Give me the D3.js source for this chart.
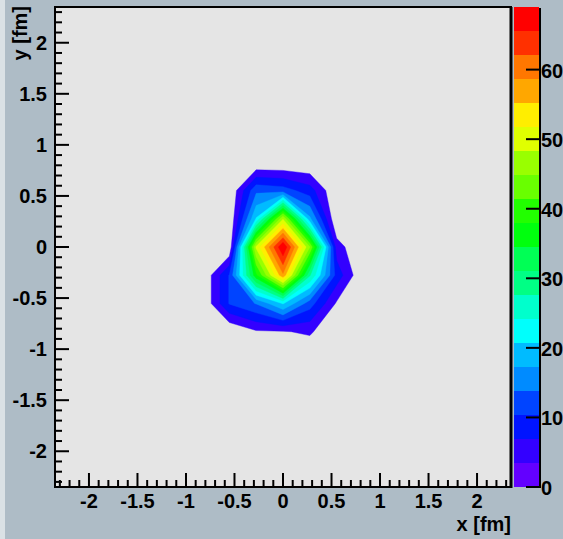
<!DOCTYPE html>
<html><head><meta charset="utf-8">
<script src="https://cdn.jsdelivr.net/npm/d3@7"></script>
<style>
html,body{margin:0;padding:0;background:#aebcc6;}
svg{display:block;}
</style>
</head><body>
<svg id="chart" width="563" height="539"></svg>
<script>
// ---------------- data ----------------
const xRange = [-2.35, 2.35];
const yRange = [-2.35, 2.35];
const nBinsX = 17;
const nBinsY = 17;
// bin offsets (from the central bin) of the non-empty core of the histogram
const coreCols = [-3, -2, -1, 0, 1, 2, 3];
const coreRows = [3, 2, 1, 0, -1, -2, -3, -4];
// bin contents, one row per coreRows entry (top to bottom), one value per coreCols entry
const zRows = [
  [0, 0,    0,  0,   0,   0, 0],
  [0, 0,   13, 12,   8.5, 0, 0],
  [0, 0,   21, 48,  18,   0, 0],
  [0, 0,   49, 69,  45,   5, 0],
  [0, 10.6, 37, 58, 28,   9, 0],
  [0, 10.6, 14, 21, 12,   3, 0],
  [0, 0,    3, 3.2,  4,   0, 0],
  [0, 0,    0,  0,   0,   0, 0]
];
const zMin = 0;
const zMax = 69;
const nContours = 20;
const xTicks = [-2, -1.5, -1, -0.5, 0, 0.5, 1, 1.5, 2];
const yTicks = [-2, -1.5, -1, -0.5, 0, 0.5, 1, 1.5, 2];
const zTicks = [0, 10, 20, 30, 40, 50, 60];
const xTitle = "x [fm]";
const yTitle = "y [fm]";

// ---------------- layout ----------------
const W = 563, H = 539;
const frame = {x0: 55, x1: 511, y0: 7, y1: 487};
const pal = {x0: 514, x1: 539};
const font = "'Liberation Sans', Arial, Helvetica, sans-serif";

const svg = d3.select("#chart");
svg.append("rect").attr("width", W).attr("height", H).attr("fill", "#aebcc6");
svg.append("rect").attr("x", 0).attr("y", 0).attr("width", 5).attr("height", H).attr("fill", "#dae1e5");

const xs = d3.scaleLinear().domain(xRange).range([frame.x0, frame.x1]);
const ys = d3.scaleLinear().domain(yRange).range([frame.y1, frame.y0]);

// palette colours (ROOT "pretty" palette, 50 hues, sampled for 20 contours)
const levels = d3.range(nContours).map(k => zMin + k * (zMax - zMin) / nContours);
function bandColor(k) {
  const idx = Math.floor((k + 0.99) * 50 / nContours);
  const hue = 280 - (idx + 1) * (280 / 50);
  return d3.hsl(hue, 1, 0.5).formatHex();
}

// frame background
svg.append("rect").attr("x", frame.x0).attr("y", frame.y0)
  .attr("width", frame.x1 - frame.x0).attr("height", frame.y1 - frame.y0)
  .attr("fill", "#e5e5e5");

// build full grid
const grid = new Array(nBinsX * nBinsY).fill(0);
const cx = Math.floor(nBinsX / 2), cy = Math.floor(nBinsY / 2);
coreRows.forEach((j, r) => {
  coreCols.forEach((i, c) => {
    const row = cy - j, col = cx + i;
    grid[row * nBinsX + col] = zRows[r][c];
  });
});

const binX = d3.scaleLinear().domain([0, nBinsX]).range(xRange);
const binY = d3.scaleLinear().domain([0, nBinsY]).range([yRange[1], yRange[0]]);
const proj = d3.geoTransform({
  point: function(x, y) { this.stream.point(xs(binX(x)), ys(binY(y))); }
});
const path = d3.geoPath(proj);

svg.append("clipPath").attr("id", "fclip").append("rect")
  .attr("x", frame.x0).attr("y", frame.y0)
  .attr("width", frame.x1 - frame.x0).attr("height", frame.y1 - frame.y0);

const contours = d3.contours().size([nBinsX, nBinsY]).thresholds(levels.slice(1))(grid);
svg.append("g").attr("clip-path", "url(#fclip)")
  .selectAll("path").data(contours).join("path")
  .attr("d", path)
  .attr("fill", (d, k) => bandColor(k + 1))
  .attr("stroke", (d, k) => bandColor(k + 1))
  .attr("stroke-width", 0.4);

// frame border
const fb = svg.append("g");
fb.append("rect").attr("x", frame.x0).attr("y", frame.y0)
  .attr("width", frame.x1 - frame.x0).attr("height", frame.y1 - frame.y0)
  .attr("fill", "none").attr("stroke", "#000").attr("stroke-width", 2);
fb.append("line").attr("x1", frame.x1).attr("x2", frame.x1).attr("y1", frame.y0).attr("y2", frame.y1 + 1)
  .attr("stroke", "#000").attr("stroke-width", 3);

// ticks
const minorStep = 0.1;
const xMinor = d3.range(Math.ceil(xRange[0] / minorStep - 1e-9), Math.floor(xRange[1] / minorStep + 1e-9) + 1).map(v => +(v * minorStep).toFixed(2));
const yMinor = d3.range(Math.ceil(yRange[0] / minorStep - 1e-9), Math.floor(yRange[1] / minorStep + 1e-9) + 1).map(v => +(v * minorStep).toFixed(2));
const tk = svg.append("g").attr("stroke", "#000").attr("stroke-width", 2);
xMinor.forEach(v => {
  const major = xTicks.some(t => Math.abs(t - v) < 1e-6);
  tk.append("line").attr("x1", xs(v)).attr("x2", xs(v)).attr("y1", frame.y1).attr("y2", frame.y1 - (major ? 14 : 7));
});
yMinor.forEach(v => {
  const major = yTicks.some(t => Math.abs(t - v) < 1e-6);
  tk.append("line").attr("x1", frame.x0).attr("x2", frame.x0 + (major ? 14 : 7)).attr("y1", ys(v)).attr("y2", ys(v));
});

// tick labels
const lab = svg.append("g").attr("font-family", font).attr("font-weight", "bold").attr("font-size", 20).attr("fill", "#000");
lab.selectAll("text.xl").data(xTicks).join("text").attr("class", "xl")
  .attr("x", d => xs(d)).attr("y", 508).attr("text-anchor", "middle").text(d => String(d));
lab.selectAll("text.yl").data(yTicks).join("text").attr("class", "yl")
  .attr("x", 47).attr("y", d => ys(d) + 7).attr("text-anchor", "end").text(d => String(d));

// axis titles
lab.append("text").attr("x", frame.x1).attr("y", 531).attr("text-anchor", "end").text(xTitle);
lab.append("text").attr("transform", "translate(27," + (frame.y0 - 1) + ") rotate(-90)")
  .attr("text-anchor", "end").text(yTitle);

// palette
const zs = d3.scaleLinear().domain([zMin, zMax]).range([frame.y1, frame.y0]);
const pg = svg.append("g");
levels.forEach((lv, k) => {
  const top = zs(k + 1 < nContours ? levels[k + 1] : zMax);
  pg.append("rect").attr("x", pal.x0).attr("width", pal.x1 - pal.x0)
    .attr("y", top).attr("height", zs(lv) - top).attr("fill", bandColor(k));
});
pg.append("line").attr("x1", pal.x1 + 1).attr("x2", pal.x1 + 1).attr("y1", frame.y0 + 1).attr("y2", frame.y1 + 1)
  .attr("stroke", "#000").attr("stroke-width", 2);
zTicks.forEach(t => {
  pg.append("line").attr("x1", pal.x1 - 13).attr("x2", pal.x1 + 1).attr("y1", zs(t)).attr("y2", zs(t))
    .attr("stroke", "#000").attr("stroke-width", 2);
});
lab.selectAll("text.zl").data(zTicks).join("text").attr("class", "zl")
  .attr("x", pal.x1 + 2).attr("y", d => zs(d) + 8).attr("text-anchor", "start").text(d => d);
</script>
</body></html>
